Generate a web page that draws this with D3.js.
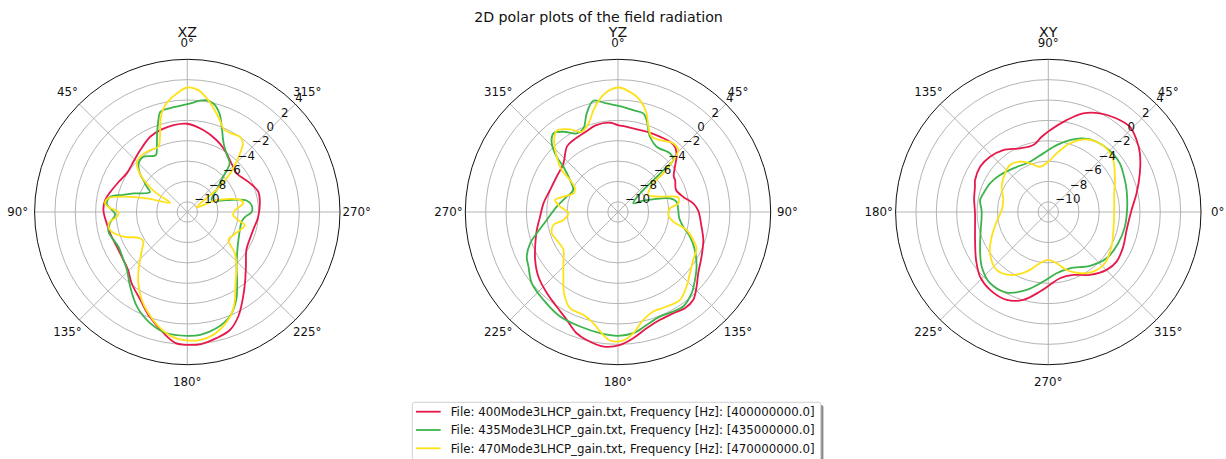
<!DOCTYPE html>
<html>
<head>
<meta charset="utf-8">
<script src="https://cdn.jsdelivr.net/npm/d3@7"></script>
<style>
body { margin: 0; background: #fff; }
text { font-family: "DejaVu Sans", sans-serif; fill: #111; }
</style>
</head>
<body>
<svg id="chart" width="1226" height="459"></svg>
<script>
// radial ticks (dB) and angular ticks (deg)
var R_TICKS = [-10, -8, -6, -4, -2, 0, 2, 4];
var THETA_TICKS = [0, 45, 90, 135, 180, 225, 270, 315];
var R_MIN = -11, R_MAX = 4;

var FILE_LABELS = [
	'File: 400Mode3LHCP_gain.txt, Frequency [Hz]: [400000000.0]',
	'File: 435Mode3LHCP_gain.txt, Frequency [Hz]: [435000000.0]',
	'File: 470Mode3LHCP_gain.txt, Frequency [Hz]: [470000000.0]'
];
var COLORS = ['#e6194b', '#3cb44b', '#ffe119'];

// [angle (deg, in each plot's own convention), gain (dB)]
var xz400 = [[0,-2.33],[9,-2.35],[18,-2.52],[26,-2.75],[37,-3.35],[47,-3.76],[57,-3.94],[65,-3.69],[74,-3.27],[82,-2.84],[89,-2.76],[98,-3.0],[105,-3.13],[116,-3.28],[127,-3.15],[134,-2.88],[142,-2.12],[152,-1.2],[160,-0.1],[169,1.13],[175,1.93],[180,2.05],[186,2.04],[193,1.72],[200,1.31],[206,0.42],[212,-0.77],[219,-2.0],[227,-3.13],[237,-4.09],[243,-4.27],[255,-4.29],[266,-4.02],[277,-3.82],[286,-3.75],[295,-4.24],[308,-4.85],[315,-4.66],[330,-3.83],[338,-3.37],[349,-2.8]];
var xz435 = [[0,-0.41],[8,-0.63],[15,-0.8],[17.5,-1.55],[21,-2.73],[25,-3.92],[29,-4.62],[38.5,-4.07],[45,-4.23],[51,-5.02],[54,-5.67],[58,-6.3],[62,-6.85],[71,-5.4],[75,-4.5],[79,-3.27],[84,-3.04],[92,-3.9],[98,-3.33],[104,-3.02],[117,-3.42],[127,-3.15],[134,-2.77],[142.5,-1.78],[152,-0.47],[161.5,0.51],[170,1.07],[180,1.16],[186,1.13],[194,0.77],[202,0.09],[209,-1.1],[215,-2.46],[222,-3.77],[233,-4.84],[238,-5.13],[251,-5.54],[260,-5.58],[265,-5.32],[270,-4.68],[276,-4.65],[281,-5.08],[287,-6.96],[296,-8.34],[307,-7.4],[314.5,-6.06],[319,-4.66],[325,-4.2],[332,-3.39],[338,-1.97],[342,-0.8],[346.5,-0.04],[351,0.12]];
var xz470 = [[0,1.23],[5,0.69],[11,-0.15],[14.6,-1.0],[17,-1.9],[20,-3.14],[24,-3.99],[31,-3.9],[40.5,-3.86],[46,-4.1],[51,-5.0],[55,-6.12],[58.7,-7.48],[61.7,-9.07],[71.4,-6.79],[76.5,-4.54],[80,-3.14],[84,-2.88],[87,-3.4],[90,-4.23],[94,-4.05],[97,-3.35],[100.5,-3.12],[104.6,-3.33],[111,-4.27],[119,-5.69],[124,-5.79],[130,-5.17],[135.4,-4.39],[140,-3.55],[145.5,-2.51],[152.6,-1.27],[159,-0.35],[166,0.6],[173,1.33],[180,1.62],[186,1.62],[192,1.33],[200,0.43],[205,-0.38],[208.4,-1.18],[214,-2.53],[222,-3.78],[229,-4.81],[236,-6.13],[243,-5.95],[251,-5.54],[257,-5.2],[261,-5.93],[266,-6.48],[272,-6.32],[279,-5.44],[283,-5.7],[292,-7.9],[296.6,-9.97],[308,-6.94],[312,-5.35],[315.6,-4.09],[319,-2.91],[321,-2.31],[325,-1.98],[331.7,-2.17],[336.7,-2.07],[340.5,-1.42],[345,-0.63],[349.4,0.18],[354.8,1.02]];

var yz400 = [[0,-2.46],[6,-2.59],[19.6,-2.63],[29,-2.54],[36.5,-2.42],[41,-2.49],[46.7,-3.09],[51.5,-3.86],[57.4,-4.5],[61,-4.58],[69,-4.9],[77,-4.42],[83.4,-3.56],[89,-3.12],[100,-2.67],[108,-2.19],[118,-1.7],[127.4,-1.08],[133.5,-0.36],[139.4,0.36],[145,0.51],[151.4,0.33],[158.7,0.37],[166,0.75],[173,1.48],[179,2.05],[186,2.29],[194,1.93],[199,1.57],[205.4,0.73],[213,0.07],[221,-0.39],[231,-0.93],[240,-1.6],[249,-2.3],[257.5,-2.83],[266.6,-3.33],[276.6,-3.63],[288,-3.99],[300,-4.05],[311.7,-3.82],[322,-2.85],[328,-2.69],[336,-2.57],[346,-2.21],[355,-2.2]];
var yz435 = [[1,-0.6],[8.5,-0.88],[14.4,-1.0],[17.3,-1.55],[23,-2.97],[30.6,-3.55],[41.6,-3.31],[46.8,-3.55],[47.2,-4.48],[47.6,-5.4],[48.3,-6.78],[50,-8.17],[60.5,-9.27],[66,-8.28],[75.3,-5.72],[80,-5.16],[88,-5.08],[95.9,-4.95],[102.7,-4.43],[108.9,-3.53],[116.3,-2.58],[124.8,-1.6],[131.4,-0.92],[137.8,-0.23],[145.4,0.28],[151,0.18],[158,0.06],[165.8,0.44],[172.8,1.0],[180,1.16],[188.4,1.03],[198.3,0.85],[209,0.74],[220.3,0.32],[230.4,-0.01],[238.6,-0.7],[244,-1.03],[250.4,-1.84],[255.3,-2.75],[263.6,-3.96],[275,-4.96],[286.6,-5.74],[296,-6.11],[303.7,-5.34],[309.7,-4.03],[312,-2.9],[316,-1.63],[320.6,-1.0],[325.8,-1.47],[332.3,-2.28],[337.5,-2.12],[342.4,-0.84],[347.5,0.19],[354,-0.28]];
var yz470 = [[0,1.23],[5.7,0.86],[11.1,0.2],[16.2,-0.92],[19.6,-2.12],[24.1,-2.9],[30.3,-2.82],[38.9,-2.35],[44.2,-2.51],[46.8,-3.55],[49.5,-5.15],[51,-6.53],[60.7,-7.59],[69.9,-6.61],[76.3,-4.91],[81.8,-5.02],[86,-5.89],[93.4,-6.05],[99.9,-5.49],[104.7,-4.03],[110.4,-3.12],[114.8,-2.5],[122.5,-2.24],[130.4,-1.72],[137.4,-1.05],[144.8,-0.44],[152.8,-0.56],[160.5,-0.63],[166.8,-0.12],[172.8,1.0],[177.6,1.63],[183.6,1.65],[187.7,1.01],[192.5,0.19],[198.6,-0.34],[206.5,-0.44],[213.6,-1.42],[220.2,-2.69],[226.8,-3.64],[235.2,-4.47],[245.5,-4.38],[252.2,-4.17],[258.6,-4.53],[261.7,-5.58],[268.5,-6.13],[275.3,-5.29],[280.8,-4.71],[285.7,-5.43],[292.7,-6.25],[298.8,-6.18],[303.7,-5.34],[306.7,-4.1],[312,-2.9],[318.4,-1.55],[323,-1.0],[329.9,-1.62],[335.7,-2.35],[341.5,-1.83],[347.7,-0.42],[353.7,0.71]];

var xy400 = [[1.4,-2.82],[11.9,-2.14],[22.9,-1.24],[32.6,-0.32],[39.2,0.19],[46.3,0.59],[53.9,0.37],[62.4,-0.07],[70.5,-0.73],[78.7,-1.8],[88.8,-2.96],[95,-3.58],[102.6,-4.26],[114,-4.16],[126,-3.48],[136.5,-3.11],[146.4,-2.96],[156.4,-3.15],[161,-3.38],[170,-3.6],[181,-3.8],[200.9,-3.3],[213.6,-2.48],[223.4,-1.77],[233.2,-1.45],[244.7,-1.45],[254.1,-2.03],[264,-3.14],[271.3,-3.84],[280,-4.39],[291.6,-4.35],[303.5,-3.59],[315.2,-2.93],[324,-2.71],[335.2,-2.89],[347.1,-3.11]];
var xy435 = [[3.9,-3.23],[15.7,-3.01],[22.7,-2.85],[34.2,-2.5],[42,-2.45],[55.5,-2.63],[64.6,-3.0],[73.3,-3.62],[82.9,-4.38],[94.9,-5.22],[110,-5.74],[128.7,-5.51],[142.6,-5.03],[153.8,-4.62],[164,-4.37],[170,-4.2],[180,-4.46],[194.9,-4.13],[206.9,-3.48],[219.4,-2.54],[230.7,-1.96],[242.7,-2.09],[254.5,-3.06],[265.9,-4.15],[277.7,-4.93],[291,-5.08],[307.7,-4.31],[321.5,-3.69],[335.9,-3.48],[349.2,-3.34]];
var xy470 = [[4.6,-4.5],[15,-4.3],[25.6,-3.74],[38.7,-2.83],[47.5,-2.53],[55.5,-2.63],[64.3,-3.09],[72.5,-3.93],[81.9,-5.18],[90,-6.06],[100.4,-6.48],[110.6,-5.9],[119.4,-5.33],[129.2,-5.05],[138.3,-5.3],[151.5,-5.79],[165.1,-6.43],[177.5,-6.42],[190.6,-5.84],[203.5,-4.94],[215.3,-3.98],[228.3,-3.38],[238.7,-3.76],[250,-4.77],[260.8,-5.9],[270,-6.29],[279.2,-5.9],[287.5,-5.03],[297.3,-4.23],[307,-3.67],[317.8,-3.5],[331.3,-3.92],[341.8,-4.29]];

var R_OUT = 152.7;
var CY = 212;
var TICK_FS = 11.8, TITLE_FS = 14.2;

// each plot: title, centre, and how its angle maps to screen (deg clockwise from top)
var panels = [
	{ title: 'XZ', cx: 187.3, toScreen: function(t) { return -t; }, series: [xz400, xz435, xz470] },
	{ title: 'YZ', cx: 618, toScreen: function(t) { return t; }, series: [yz400, yz435, yz470] },
	{ title: 'XY', cx: 1048.3, toScreen: function(t) { return 90 - t; }, series: [xy400, xy435, xy470] }
];

var svg = d3.select('#chart');
var r = d3.scaleLinear().domain([R_MIN, R_MAX]).range([0, R_OUT]);
var rad = Math.PI / 180;

svg.append('text')
	.attr('x', 598.5).attr('y', 21.5)
	.attr('text-anchor', 'middle')
	.style('font-size', TITLE_FS + 'px')
	.text('2D polar plots of the field radiation');

panels.forEach(function(p) {
	var g = svg.append('g').attr('transform', 'translate(' + p.cx + ',' + CY + ')');

	// rings
	g.selectAll('.ring')
		.data(R_TICKS.filter(function(v) { return v < R_MAX; }))
		.enter()
		.append('circle')
		.attr('r', function(v) { return r(v); })
		.attr('fill', 'none')
		.attr('stroke', '#b0b0b0')
		.attr('stroke-width', 0.95);

	// spokes
	g.selectAll('.spoke')
		.data(THETA_TICKS)
		.enter()
		.append('line')
		.attr('x1', 0).attr('y1', 0)
		.attr('x2', function(t) { return R_OUT * Math.sin(p.toScreen(t) * rad); })
		.attr('y2', function(t) { return -R_OUT * Math.cos(p.toScreen(t) * rad); })
		.attr('stroke', '#b0b0b0')
		.attr('stroke-width', 0.95);

	// curves
	var line = d3.lineRadial()
		.angle(function(d) { return p.toScreen(d[0]) * rad; })
		.radius(function(d) { return r(d[1]); })
		.curve(d3.curveCatmullRomClosed.alpha(0.5));

	p.series.forEach(function(s, i) {
		g.append('path')
			.attr('d', line(s))
			.attr('fill', 'none')
			.attr('stroke', COLORS[i])
			.attr('stroke-width', 1.8)
			.attr('stroke-linejoin', 'round');
	});

	// outer spine
	g.append('circle')
		.attr('r', R_OUT)
		.attr('fill', 'none')
		.attr('stroke', '#111')
		.attr('stroke-width', 1);

	// theta labels
	g.selectAll('.tlab')
		.data(THETA_TICKS)
		.enter()
		.append('text')
		.attr('x', function(t) { return 169.5 * Math.sin(p.toScreen(t) * rad); })
		.attr('y', function(t) { return -169.5 * Math.cos(p.toScreen(t) * rad) + 4.2; })
		.attr('text-anchor', 'middle')
		.style('font-size', TICK_FS + 'px')
		.text(function(t) { return t + '°'; });

	// radial labels along the upper-right diagonal
	g.selectAll('.rlab')
		.data(R_TICKS)
		.enter()
		.append('text')
		.attr('x', function(v) { return r(v) * Math.SQRT1_2; })
		.attr('y', function(v) { return -r(v) * Math.SQRT1_2 - 1.8; })
		.style('font-size', TICK_FS + 'px')
		.text(function(v) { return v < 0 ? '\u2212' + Math.abs(v) : v; });

	g.append('text')
		.attr('x', 0).attr('y', 37.3 - CY)
		.attr('text-anchor', 'middle')
		.style('font-size', TITLE_FS + 'px')
		.text(p.title);
});

// legend
var lg = svg.append('g').attr('transform', 'translate(412.3,402.3)');
lg.append('rect')
	.attr('x', 2.6).attr('y', 2.6)
	.attr('width', 408.5).attr('height', 60)
	.attr('rx', 2)
	.attr('fill', '#888');
lg.append('rect')
	.attr('width', 408.5).attr('height', 60)
	.attr('rx', 2)
	.attr('fill', '#fff')
	.attr('stroke', '#d0d0d0')
	.attr('stroke-width', 1);

FILE_LABELS.forEach(function(label, i) {
	var y = 9.4 + i * 18.3;
	lg.append('line')
		.attr('x1', 3.7).attr('x2', 28.4)
		.attr('y1', y).attr('y2', y)
		.attr('stroke', COLORS[i])
		.attr('stroke-width', 1.8);
	lg.append('text')
		.attr('x', 38.4).attr('y', y + 4.3)
		.style('font-size', TICK_FS + 'px')
		.text(label);
});
</script>
</body>
</html>
